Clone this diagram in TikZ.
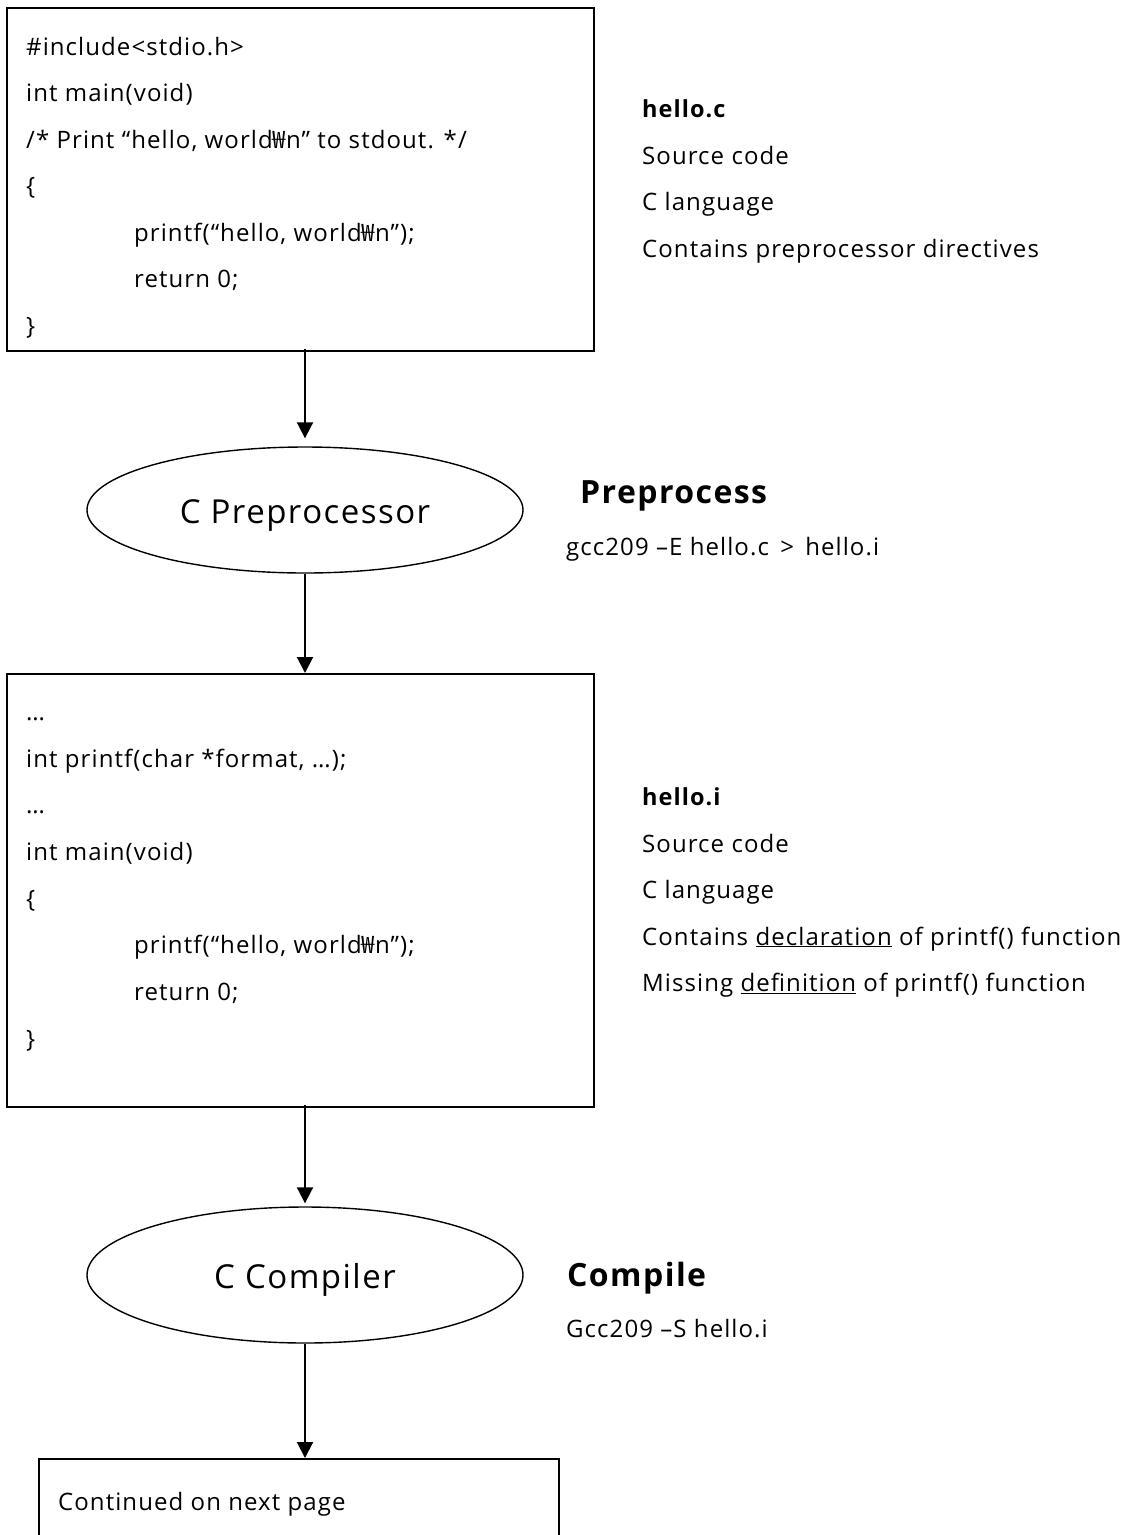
\documentclass[tikz,border=0pt]{standalone}
\usepackage{fontspec}
\setmainfont{Open Sans}[LetterSpace=4.5]
\newfontfamily\wonfont{Noto Sans CJK KR}
\newcommand{\wonsign}{{\wonfont ₩}}
\usetikzlibrary{shapes.geometric,arrows.meta}
\begin{document}
\begin{tikzpicture}[x=1pt,y=-1pt,
  txt/.style={anchor=base west, inner sep=0pt, font=\fontsize{24}{28}\selectfont},
  btxt/.style={txt, font=\fontsize{23.5}{28}\selectfont\bfseries},
  box/.style={draw, line width=1.6pt, anchor=north west, inner sep=0pt},
  proc/.style={draw, ellipse, line width=1.4pt, inner sep=0pt, minimum width=436pt, text height=30pt, text depth=3pt, font=\fontsize{33}{40}\selectfont},
  head/.style={anchor=base west, inner sep=0pt, font=\fontsize{32}{36}\selectfont\bfseries},
  flow/.style={line width=2pt, -{Triangle[length=16pt,width=16pt]}}]
\useasboundingbox (0,0) rectangle (1129,1535);
\clip (0,0) rectangle (1129,1535);
\fill[white] (0,0) rectangle (1129,1535);

% boxes
\node[box, minimum width=587pt, minimum height=343pt] (src) at (6,7) {};
\node[box, minimum width=587pt, minimum height=433pt] (pre) at (6,673) {};
\node[box, minimum width=520pt, minimum height=140pt] (nxt) at (38,1458) {};

% ellipses
\node[proc, minimum height=126pt] (pp) at (305,510) {C Preprocessor};
\node[proc, minimum height=136pt] (cc) at (305,1275) {C Compiler};

% box 1 text
\node[txt] (a1) at (26,55) {\#include<stdio.h>};
\node[txt] (a2) at (26,101.5) {int main(void)};
\node[txt] (a3) at (26,148) {/* Print “hello, world\wonsign n” to stdout. */};
\node[txt] (a4) at (26,194.5) {\{};
\node[txt] (a5) at (134,241) {printf(“hello, world\wonsign n”);};
\node[txt] (a6) at (134,287.5) {return 0;};
\node[txt] (a7) at (26,334) {\}};

% box 2 text
\node[txt] (b1) at (26,720) {…};
\node[txt] (b2) at (26,767) {int printf(char *format, …);};
\node[txt] (b3) at (26,813.5) {…};
\node[txt] (b4) at (26,860) {int main(void)};
\node[txt] (b5) at (26,907) {\{};
\node[txt] (b6) at (134,953.5) {printf(“hello, world\wonsign n”);};
\node[txt] (b7) at (134,1000) {return 0;};
\node[txt] (b8) at (26,1047) {\}};

% box 3 text
\node[txt] (c1) at (58,1510) {Continued on next page};

% right side notes
\node[btxt] (r1) at (642,117) {hello.c};
\node[txt] (r2) at (642,164) {Source code};
\node[txt] (r3) at (642,210.5) {C language};
\node[txt] (r4) at (642,257) {Contains preprocessor directives};

\node[head] (h1) at (580,503) {Preprocess};
\node[txt] (g1) at (566,555) {gcc209 –E hello.c \,>\, hello.i};

\node[btxt] (s1) at (642,805) {hello.i};
\node[txt] (s2) at (642,852) {Source code};
\node[txt] (s3) at (642,898.5) {C language};
\node[txt] (s4) at (642,945) {Contains \underline{declaration} of printf() function};
\node[txt] (s5) at (642,991.5) {Missing \underline{definition} of printf() function};

\node[head] (h2) at (567,1286) {Compile};
\node[txt] (g2) at (566,1337) {Gcc209 –S hello.i};

% connectors
\draw[flow, shorten >=8pt] ([yshift=3pt]src.south -| pp.north) -- (pp.north);
\draw[flow] (pp.south) -- (pp.south |- pre.north);
\draw[flow, shorten >=3pt] ([yshift=3pt]pre.south -| cc.north) -- (cc.north);
\draw[flow] (cc.south) -- (cc.south |- nxt.north);
\end{tikzpicture}
\end{document}
